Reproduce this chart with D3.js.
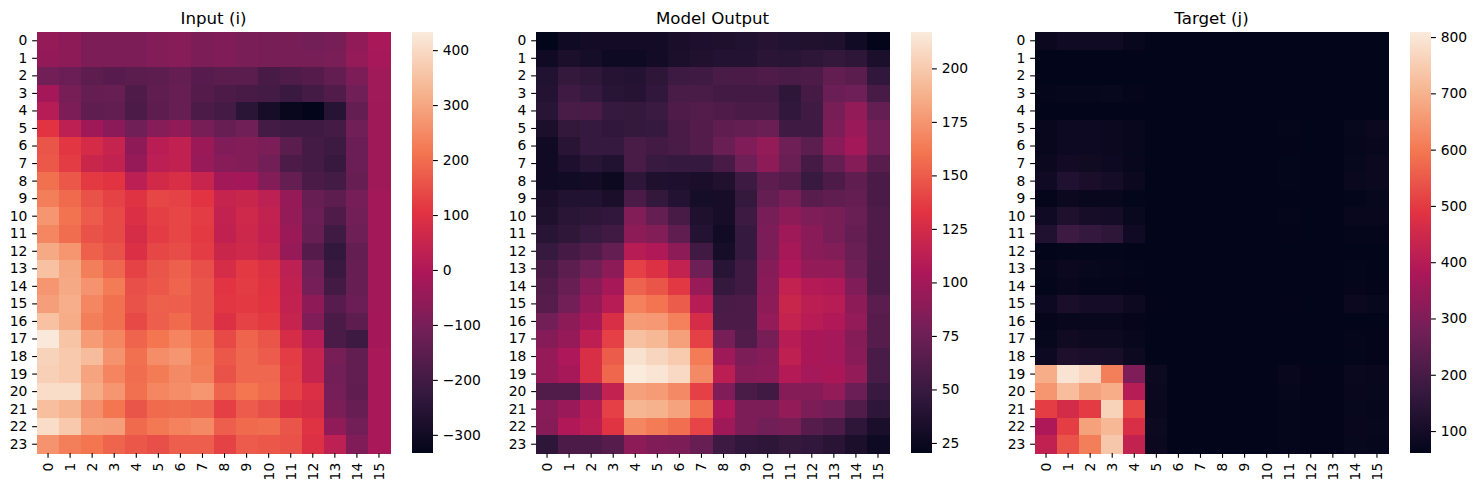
<!DOCTYPE html>
<html><head><meta charset="utf-8">
<script src="https://cdnjs.cloudflare.com/ajax/libs/d3/7.8.5/d3.min.js"></script>
<style>html,body{margin:0;padding:0;background:#fff}svg{display:block}text{font-family:"DejaVu Sans",sans-serif;fill:#000}</style>
</head><body><svg id="c" width="1476" height="490"></svg>
<script>
const rows = d3.range(24), cols = d3.range(16);
const rocketStops = ["#03051a","#35193e","#701f57","#ad1759","#e13342","#f37651","#f6b48f","#faebdd"];
const titles = ["Input (i)","Model Output","Target (j)"];
const inputValues = [
[-50,-62,-92,-92,-92,-82,-75,-92,-85,-97,-102,-102,-110,-102,-55,-12],
[-52,-62,-92,-92,-92,-82,-75,-92,-85,-97,-102,-102,-102,-97,-50,-18],
[-110,-125,-150,-160,-155,-150,-135,-160,-155,-155,-190,-175,-165,-140,-90,-28],
[-20,-100,-135,-130,-175,-145,-130,-165,-180,-190,-195,-215,-195,-170,-115,-28],
[15,-90,-145,-140,-180,-150,-130,-180,-195,-245,-290,-320,-333,-255,-135,-30],
[105,30,-30,-65,-115,-75,-55,-100,-130,-115,-195,-205,-205,-195,-115,-30],
[160,110,75,45,-60,20,35,-35,-85,-80,-95,-155,-195,-210,-125,-30],
[165,120,55,40,-45,25,35,-40,-75,-80,-110,-180,-195,-220,-125,-30],
[205,165,115,105,25,70,85,50,-25,-20,-80,-135,-185,-195,-130,-30],
[230,195,155,130,100,135,130,105,45,55,30,-45,-130,-150,-105,-25],
[270,210,170,140,90,125,135,120,40,65,40,-50,-125,-175,-110,-25],
[245,200,155,140,80,120,135,115,35,60,35,-35,-130,-205,-120,-22],
[305,270,180,155,90,135,145,120,55,65,45,-45,-165,-230,-135,-25],
[350,300,230,190,130,160,180,150,80,115,95,30,-115,-215,-130,-25],
[270,305,265,225,150,165,185,160,105,120,100,35,-105,-200,-130,-25],
[285,315,245,205,155,180,175,160,110,115,105,40,-60,-160,-125,-25],
[350,310,230,205,140,175,195,160,95,130,115,45,-85,-185,-150,-20],
[430,355,280,245,185,215,240,210,140,185,160,80,15,-185,-210,-20],
[385,365,340,265,205,255,270,225,165,190,170,120,45,-100,-140,-12],
[380,365,295,240,200,225,250,230,155,190,190,125,45,-110,-140,-12],
[405,405,310,270,205,245,255,270,185,215,195,130,90,-105,-145,-12],
[345,325,260,215,160,195,200,190,125,170,150,95,80,-95,-130,-12],
[405,365,290,285,195,220,235,250,175,195,200,160,100,-55,-110,-12],
[265,230,215,185,165,150,175,175,130,170,165,155,95,30,-85,-12]];
const outputValues = [
[20,28,30,30,30,30,33,35,36,38,40,38,37,36,29,21],
[28,34,31,27,27,30,34,37,39,39,43,41,44,47,44,34],
[38,48,45,40,39,44,52,53,58,59,61,59,60,70,66,46],
[39,53,49,41,40,46,58,58,55,55,55,44,56,74,76,57],
[41,58,59,49,48,51,61,63,61,59,59,46,53,80,92,71],
[34,47,49,46,48,49,59,63,69,71,73,53,53,82,96,78],
[28,42,49,49,58,55,58,63,73,84,92,75,67,88,100,78],
[28,35,41,38,58,50,49,49,57,75,90,73,56,71,86,65],
[28,29,30,26,44,36,35,33,37,52,68,63,50,60,69,59],
[33,38,38,33,59,47,39,31,32,48,71,80,65,69,71,59],
[36,43,44,46,85,71,57,36,32,52,80,90,83,80,73,61],
[41,45,50,54,90,85,69,39,29,49,82,98,88,80,71,61],
[49,56,62,71,110,106,90,54,31,49,82,102,88,85,73,61],
[57,67,77,90,138,130,116,75,41,54,86,105,92,92,75,60],
[62,72,88,102,153,147,135,95,48,54,88,116,108,106,84,60],
[64,78,94,110,166,160,150,110,58,60,90,120,112,110,90,66],
[78,90,102,128,178,176,166,126,60,60,92,117,110,106,92,64],
[86,94,113,138,195,191,180,138,80,62,80,110,103,101,86,64],
[94,105,128,150,212,206,200,163,98,82,86,114,103,101,88,58],
[94,102,128,155,217,214,208,170,112,86,88,108,101,103,92,58],
[62,62,84,116,180,178,170,138,84,58,54,86,86,92,74,50],
[87,96,110,138,190,188,181,158,106,82,82,92,82,78,62,44],
[86,106,112,133,168,163,158,140,98,82,77,80,64,60,44,33],
[44,60,60,64,90,84,82,72,52,46,44,48,46,42,34,27]];
const targetValues = [
[78,90,90,90,72,62,61,61,61,61,61,61,61,61,62,62],
[62,62,62,62,62,61,61,61,61,61,61,61,61,61,61,61],
[62,62,62,62,62,61,61,61,61,61,61,61,61,61,61,61],
[66,68,68,70,65,62,61,61,61,61,61,61,61,61,62,62],
[62,62,62,62,62,61,61,61,61,61,61,61,61,61,61,61],
[74,85,85,78,72,62,61,61,61,61,61,65,62,62,70,78],
[74,85,85,78,70,62,61,61,61,61,61,63,62,62,68,74],
[78,95,88,84,72,62,61,61,61,61,61,64,62,62,70,78],
[90,125,110,100,78,62,61,61,61,61,61,64,62,62,75,78],
[66,78,72,72,64,62,61,61,61,61,61,62,62,62,64,70],
[90,120,105,100,76,62,61,61,61,61,62,65,62,62,72,74],
[125,180,165,150,90,62,61,61,61,61,61,63,62,62,66,66],
[62,64,64,64,62,61,61,61,61,61,61,61,61,61,62,62],
[68,78,70,68,64,62,61,61,61,61,61,61,61,61,64,62],
[64,72,66,66,63,62,61,61,61,61,61,61,61,61,66,63],
[85,110,100,100,82,63,61,61,61,61,61,63,62,62,78,70],
[66,74,72,72,65,62,61,61,61,61,61,62,61,61,62,62],
[70,88,82,82,74,62,61,61,61,61,61,62,61,61,66,63],
[85,118,110,108,82,62,61,61,61,61,61,62,61,61,64,63],
[690,795,770,610,300,80,62,62,62,62,62,72,63,63,76,74],
[650,720,670,690,400,78,62,62,62,62,62,68,63,63,72,70],
[505,460,500,760,520,75,62,62,62,62,62,65,63,63,70,68],
[385,505,670,710,470,80,62,62,62,62,62,66,63,63,72,70],
[420,540,610,740,425,78,62,62,62,62,62,66,63,63,70,68]];
const inputTicks = [-300,-200,-100,0,100,200,300,400];
const outputTicks = [25,50,75,100,125,150,175,200];
const targetTicks = [100,200,300,400,500,600,700,800];

const panels = [
 {title:titles[0],data:inputValues,ticks:inputTicks,dom:[-333,433],x0:37},
 {title:titles[1],data:outputValues,ticks:outputTicks,dom:[20.3,217],x0:536},
 {title:titles[2],data:targetValues,ticks:targetTicks,dom:[61,809],x0:1035}
];
const top_=32,bot=453,W=353,cbGap=22,cbW=21,tick=4.86,pad=4.86,fs="13.89px";
const svg=d3.select("#c"), defs=svg.append("defs");
const rocket=d3.scaleLinear().domain(d3.range(8).map(i=>i/7)).range(rocketStops).interpolate(d3.interpolateRgb);

panels.forEach((p,pi)=>{
  const x=d3.scaleBand().domain(cols).range([p.x0,p.x0+W]);
  const y=d3.scaleBand().domain(rows).range([top_,bot]);
  const norm=d3.scaleLinear().domain(p.dom).range([0,1]).clamp(true);
  const g=svg.append("g").attr("shape-rendering","crispEdges");
  rows.forEach(r=>{
    g.selectAll(null).data(p.data[r]).join("rect")
     .attr("x",(d,c)=>x(c)).attr("y",y(r))
     .attr("width",x.bandwidth()+0.5).attr("height",y.bandwidth()+0.5)
     .attr("fill",d=>rocket(norm(d)));
  });
  const ax=svg.append("g").attr("transform",`translate(0,${bot})`)
    .call(d3.axisBottom(x).tickSize(tick).tickPadding(pad));
  ax.select(".domain").remove();
  ax.selectAll("text").attr("transform","rotate(-90)").attr("x",-(tick+pad)).attr("y",0).attr("dy","0.35em")
    .attr("text-anchor","end").style("font-size",fs).style("font-family",'"DejaVu Sans"');
  const ay=svg.append("g").attr("transform",`translate(${p.x0},0)`)
    .call(d3.axisLeft(y).tickSize(tick).tickPadding(pad));
  ay.select(".domain").remove();
  ay.selectAll("text").style("font-size",fs).style("font-family",'"DejaVu Sans"');
  svg.append("text").attr("x",p.x0+W/2).attr("y",24).attr("text-anchor","middle").style("font-size","16.67px").text(p.title);
  const cx=p.x0+W+cbGap;
  const cb=d3.scaleLinear().domain(p.dom).range([bot,top_]);
  const gid="g"+pi;
  defs.append("linearGradient").attr("id",gid).attr("x1",0).attr("x2",0).attr("y1",1).attr("y2",0)
    .selectAll("stop").data(d3.range(8)).join("stop")
    .attr("offset",i=>i/7).attr("stop-color",i=>rocket(i/7));
  svg.append("rect").attr("x",cx).attr("y",top_).attr("width",cbW).attr("height",bot-top_).attr("fill",`url(#${gid})`);
  const ac=svg.append("g").attr("transform",`translate(${cx+cbW},0)`)
    .call(d3.axisRight(cb).tickValues(p.ticks).tickFormat(d=>String(d).replace("-","\u2212")).tickSize(tick).tickPadding(pad));
  ac.select(".domain").remove();
  ac.selectAll("text").style("font-size",fs).style("font-family",'"DejaVu Sans"');
});
svg.selectAll(".tick line").attr("stroke","#000").attr("stroke-width",1.1);
</script></body></html>
